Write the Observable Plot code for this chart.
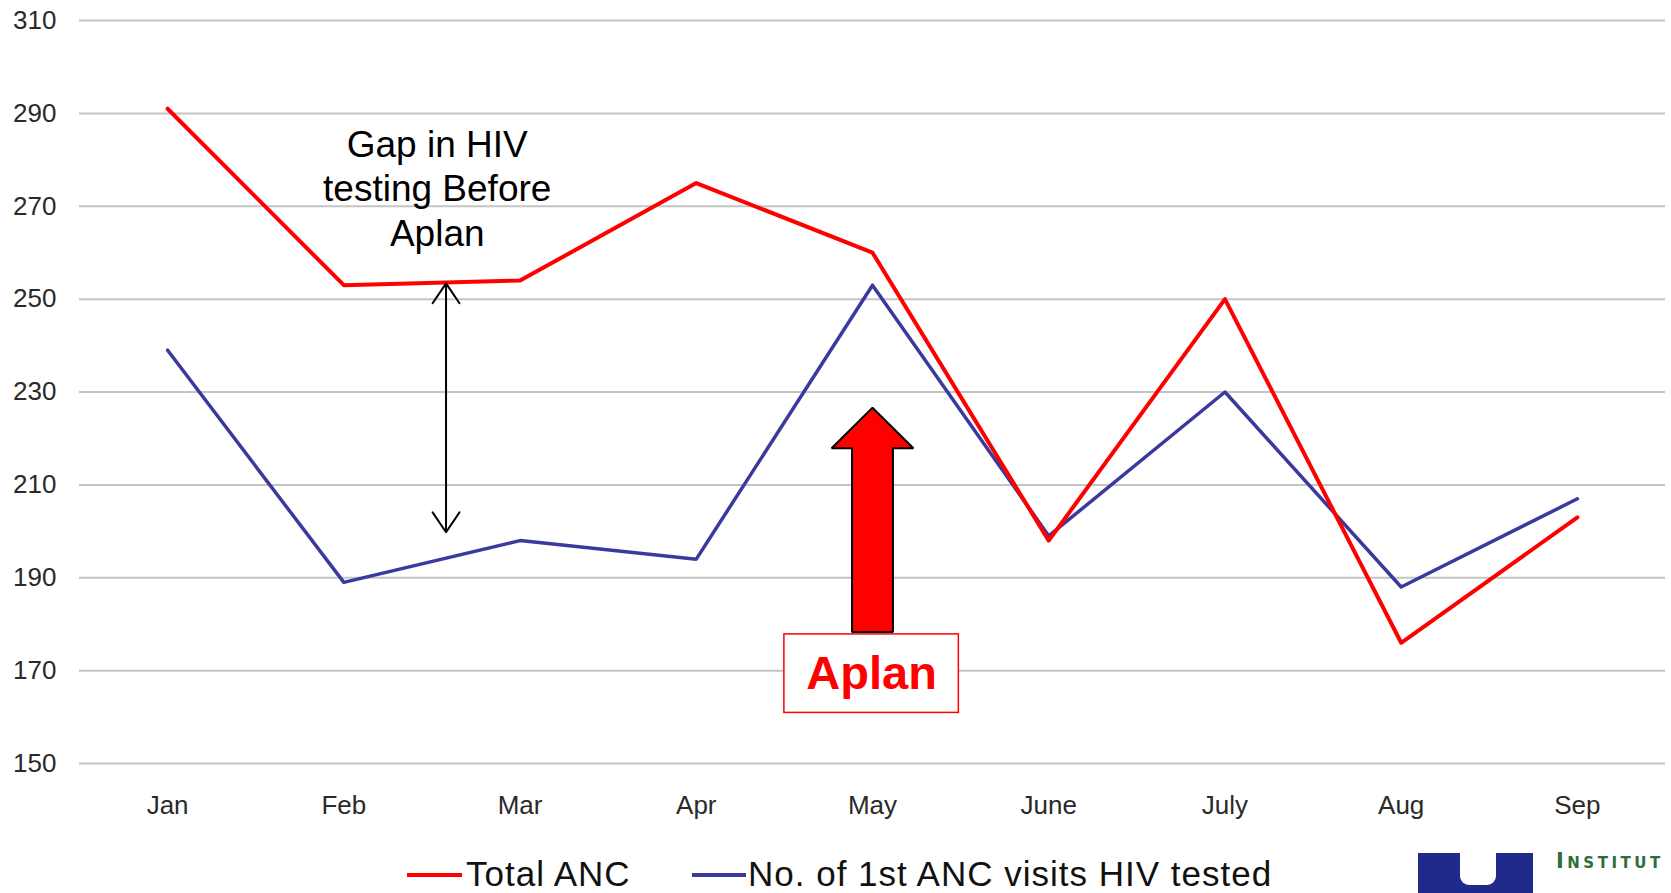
<!DOCTYPE html>
<html>
<head>
<meta charset="utf-8">
<script src="https://cdn.jsdelivr.net/npm/d3@7"></script>
<script src="https://cdn.jsdelivr.net/npm/@observablehq/plot@0.6"></script>
<style>
  html, body { margin: 0; padding: 0; background: #fff; }
  #wrap { position: relative; width: 1671px; }
  #legend { position: relative; width: 1671px; height: 45px; font-family: "Liberation Sans", Arial, sans-serif; overflow: hidden; }
  .sw { position: absolute; height: 4px; top: 25px; }
  .lt { position: absolute; top: 6px; font-size: 35px; line-height: 40px; color: #111; white-space: nowrap; letter-spacing: 1px; }
  #logo { position: absolute; left: 1418px; top: 5px; width: 115px; height: 45px; background: #1f2a8a; }
  #notch { position: absolute; left: 42px; top: 0; width: 36px; height: 32px; background: #fff; border-radius: 0 0 9px 9px; }
  #inst { position: absolute; left: 1556px; top: 1px; font-family: "DejaVu Sans", sans-serif; font-weight: bold; font-size: 21px; font-variant: small-caps; letter-spacing: 3.5px; color: #2e6e3a; white-space: nowrap; }
</style>
</head>
<body>
<div id="wrap">
  <div id="chart"></div>
  <div id="legend">
    <div class="sw" style="left:407px;width:55px;background:#ff0000"></div>
    <div class="lt" style="left:466px">Total ANC</div>
    <div class="sw" style="left:692px;width:54px;background:#3a3a9e"></div>
    <div class="lt" style="left:748px">No. of 1st ANC visits HIV tested</div>
    <div id="logo"><div id="notch"></div></div>
    <div id="inst">Institut</div>
  </div>
</div>
<script>
const months = ["Jan", "Feb", "Mar", "Apr", "May", "June", "July", "Aug", "Sep"];
const totalANC = [291, 253, 254, 275, 260, 198, 250, 176, 203];
const hivTested = [239, 189, 198, 194, 253, 199, 230, 188, 207];
const yTicks = [150, 170, 190, 210, 230, 250, 270, 290, 310];

// Annotation parameters (data coordinates)
const gapText = ["Gap in HIV\ntesting Before\nAplan"];
const gapPos = {x: 1.53, y: 274.1};
const gapArrow = {x: 1.58, top: 253.4, bottom: 199.8};
const aplanArrow = {x: 4, tip: 226.6, headBase: 217.9, tail: 178.3, headHalf: 0.232, shaftHalf: 0.116};
const aplanBox = {x1: 3.5, x2: 4.49, y1: 160.9, y2: 177.8, label: "Aplan"};

const rows = months.map((m, i) => ({i, month: m, total: totalANC[i], tested: hivTested[i]}));

const gapMid = (gapArrow.top + gapArrow.bottom) / 2;
const gapArrows = [
  {x: gapArrow.x, y1: gapMid, y2: gapArrow.top},
  {x: gapArrow.x, y1: gapMid, y2: gapArrow.bottom}
];

const a = aplanArrow;
const arrowPoly = [
  {x: a.x, y: a.tip},
  {x: a.x + a.headHalf, y: a.headBase},
  {x: a.x + a.shaftHalf, y: a.headBase},
  {x: a.x + a.shaftHalf, y: a.tail},
  {x: a.x - a.shaftHalf, y: a.tail},
  {x: a.x - a.shaftHalf, y: a.headBase},
  {x: a.x - a.headHalf, y: a.headBase}
];

const chart = Plot.plot({
  width: 1671,
  height: 848,
  marginLeft: 79,
  marginRight: 6,
  marginTop: 20,
  marginBottom: 85,
  style: {fontFamily: "Liberation Sans, Arial, sans-serif", fontSize: "26px", color: "#2a2a2a", background: "#fff"},
  x: {type: "linear", domain: [-0.5, 8.5], ticks: rows.map(d => d.i), tickFormat: i => months[i], tickSize: 0, tickPadding: 32, label: null},
  y: {domain: [150, 310], ticks: yTicks, tickSize: 0, tickPadding: 23, label: null, tickFormat: d => String(d)},
  marks: [
    Plot.ruleY(yTicks, {stroke: "#c4c4c4", strokeWidth: 2}),
    Plot.line(rows, {x: "i", y: "tested", stroke: "#3a3a9e", strokeWidth: 3.5}),
    Plot.line(rows, {x: "i", y: "total", stroke: "#ff0000", strokeWidth: 4}),
    Plot.text(gapText, {x: () => gapPos.x, y: () => gapPos.y, text: d => d, fontSize: 37, fill: "#000", lineHeight: 1.2}),
    Plot.arrow(gapArrows, {x1: "x", x2: "x", y1: "y1", y2: "y2", stroke: "#000", strokeWidth: 2, headLength: 18, headAngle: 68, bend: 0}),
    Plot.line(arrowPoly, {x: "x", y: "y", curve: "linear-closed", fill: "#ff0000", stroke: "#000", strokeWidth: 2, strokeLinejoin: "miter"}),
    Plot.rect([aplanBox], {x1: "x1", x2: "x2", y1: "y1", y2: "y2", fill: "#fff", stroke: "#ff0000", strokeWidth: 1.5}),
    Plot.text([aplanBox], {x: d => (d.x1 + d.x2) / 2, y: d => (d.y1 + d.y2) / 2, text: "label", fontSize: 47, fontWeight: "bold", fill: "#ff0000"})
  ]
});
document.getElementById("chart").appendChild(chart);
</script>
</body>
</html>
